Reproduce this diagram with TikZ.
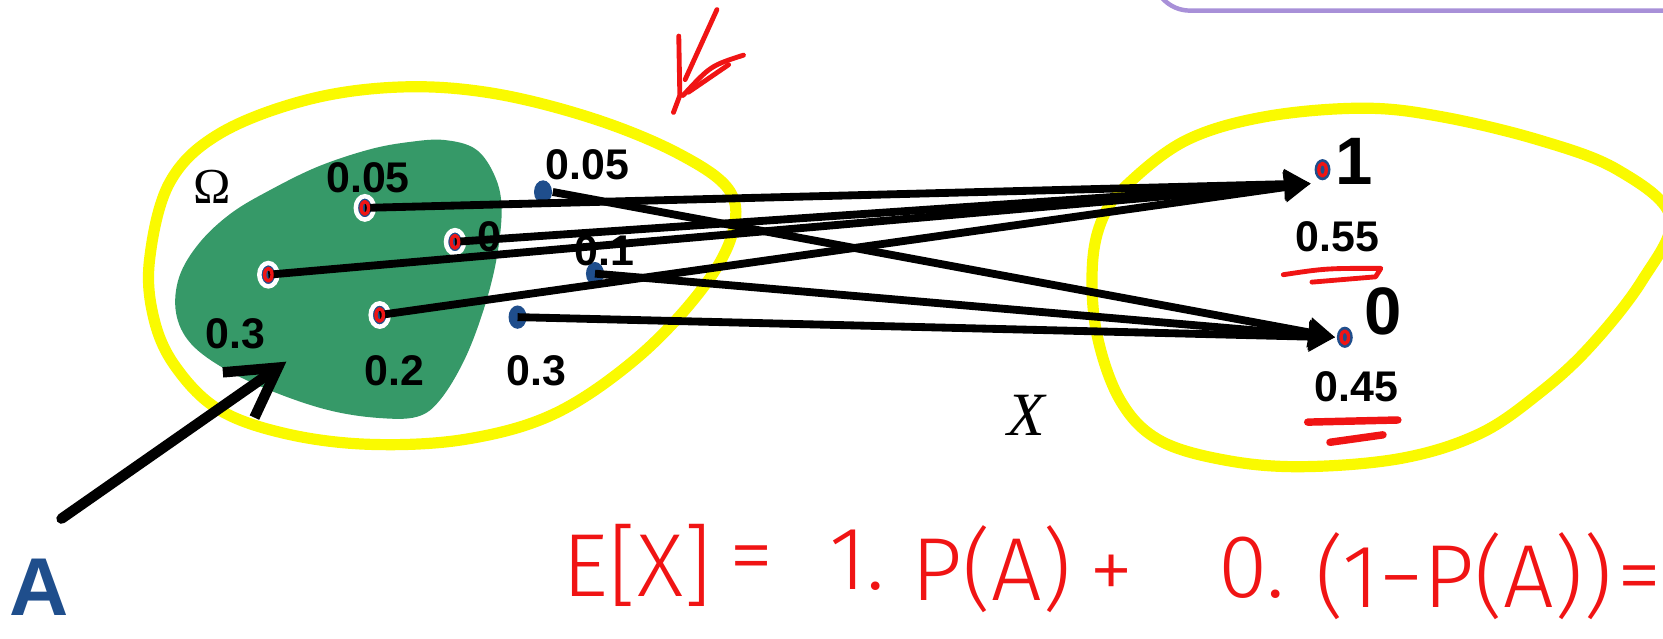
\documentclass[tikz,border=0pt]{standalone}
\usepackage{fontspec}
\setmainfont{Liberation Sans}
\newfontfamily\timesfont{Liberation Serif}
\newfontfamily\handfont{Fira Sans Light}
\usetikzlibrary{arrows.meta,shapes.geometric}
\definecolor{navy}{RGB}{31,78,140}
\definecolor{setgreen}{RGB}{54,153,104}
\definecolor{hilite}{RGB}{250,250,0}
\definecolor{boxpurple}{RGB}{168,144,216}
\definecolor{inkred}{RGB}{240,20,20}
\begin{document}
\begin{tikzpicture}[x=0.01cm,y=-0.01cm,
    dot/.style={ellipse,fill=navy,inner sep=0pt,minimum width=0.17cm,minimum height=0.22cm},
    indot/.style={dot,draw=white,line width=1.2pt},
    val/.style={font=\bfseries\fontsize{11.5}{13}\selectfont},
    outcome/.style={font=\bfseries\fontsize{18}{20}\selectfont},
    map/.style={line width=2.1pt,-{Triangle[length=0.25cm,width=0.27cm]}},
    rim/.style={hilite,line width=3pt},
    ink/.style={inkred,line width=1.3pt,line cap=round,line join=round},
    hand/.style={text=inkred,font=\handfont\fontsize{24}{26}\selectfont}]
  \useasboundingbox (0,0) rectangle (1568,602);

  % slide frame at the top
  \draw[boxpurple,line width=1.2pt,rounded corners=0.35cm] (1087,-60) rectangle (1620,10);

  % the two sets
  \draw[rim] plot[smooth cycle,tension=0.6] coordinates {(141,245) (160,172) (207,126) (290,94) (378,82) (465,88)
    (560,112) (640,145) (688,180) (690,222) (660,275) (600,338) (523,390) (440,414) (350,419) (270,409)
    (206,386) (165,345) (145,300)};
  \draw[rim] plot[smooth cycle,tension=0.6] coordinates {(1064,173) (1119,132) (1193,110) (1285,102) (1359,110)
    (1451,132) (1525,160) (1575,205) (1548,265) (1499,327) (1451,371) (1395,409) (1322,432) (1229,440)
    (1156,434) (1093,415) (1056,377) (1034,314) (1030,250) (1040,205)};
  \fill[setgreen] plot[smooth cycle,tension=0.6] coordinates {(419,132) (449,141) (467,167) (473,198) (468,245)
    (456,292) (438,339) (415,377) (393,393) (356,394) (311,387) (262,371) (214,349) (180,324) (166,295)
    (169,261) (188,229) (218,201) (255,179) (300,157) (348,141) (385,134)};

  \node (om) at (200,176) {\timesfont\fontsize{13.5}{15}\selectfont Ω};
  \node (xl) at (968,392) {\timesfont\itshape\fontsize{16.5}{18}\selectfont X};

  % outcomes in A
  \node[indot] (p1) at (344,196) {};
  \node[indot] (p2) at (429,228) {};
  \node[indot] (p3) at (253,259) {};
  \node[indot] (p4) at (358,297) {};
  % outcomes outside A
  \node[dot] (q1) at (512,181) {};
  \node[dot] (q2) at (561,258) {};
  \node[dot] (q3) at (488,299) {};
  % values of X
  \node[dot,minimum width=0.15cm,minimum height=0.2cm] (r1) at (1247,160) {};
  \node[dot,minimum width=0.15cm,minimum height=0.2cm] (r0) at (1268,318) {};
  \coordinate (t1) at (1236,173);
  \coordinate (t0) at (1259,318);

  \node[val] (w1) at (347,168) {0.05};
  \node[val] (w2) at (461,223) {0};
  \node[val] (w3) at (222,315) {0.3};
  \node[val] (w4) at (372,350) {0.2};
  \node[val] (v1) at (554,155) {0.05};
  \node[val] (v2) at (570,236) {0.1};
  \node[val] (v3) at (506,350) {0.3};
  \node[val] (s1) at (1261,223) {0.55};
  \node[val] (s0) at (1279,365) {0.45};
  \node[outcome] (o1) at (1277,152) {1};
  \node[outcome] (o0) at (1304,294) {0};

  \draw[map] (p1.center) -- (t1);
  \draw[map] (p2.center) -- (t1);
  \draw[map] (p3.center) -- (t1);
  \draw[map] (p4.center) -- (t1);
  \draw[map] (q1.east) -- (t0);
  \draw[map] (q2.center) -- (t0);
  \draw[map] (q3.center) -- (t0);

  \node[text=navy,font=\bfseries\fontsize{22}{24}\selectfont] (A) at (37,554) {A};
  \coordinate (aTail) at (58,489);
  \coordinate (aTip) at (270,341);
  \draw[line width=2.8pt,line cap=round,-{Straight Barb[length=0.45cm,width=0.52cm]}] (aTail) -- (aTip);

  % pen marks
  \foreach \d in {p1,p2,p3,p4,r1,r0}
    \draw[ink,line width=0.9pt] (\d) ellipse[x radius=3.5,y radius=6];
  \draw[ink] (640,34) -- (641,90) -- (635,106);
  \draw[ink] (676,9) -- (646,75);
  \draw[ink] (701,52) .. controls (670,62) .. (644,90);
  \draw[ink] (687,61) -- (649,87);
  \draw[ink] (1210,259) .. controls (1250,253) .. (1302,253) -- (1297,261) -- (1237,266);
  \draw[ink,line width=2pt] (1233,398) -- (1318,396);
  \draw[ink,line width=2pt] (1254,417) -- (1304,410);

  \node[hand] (h1) at (601,533) {E[X]};
  \node[hand] (h2) at (709,533) {=};
  \node[hand] (h3) at (808,528) {1.};
  \node[hand] (h4) at (935,537) {P(A)};
  \node[hand] (h5) at (1048,545) {+};
  \node[hand] (h6) at (1180,535) {0.};
  \node[hand] (h7) at (1380,543) {(1−P(A))};
  \node[hand] (h8) at (1546,552) {=};
\end{tikzpicture}
\end{document}
